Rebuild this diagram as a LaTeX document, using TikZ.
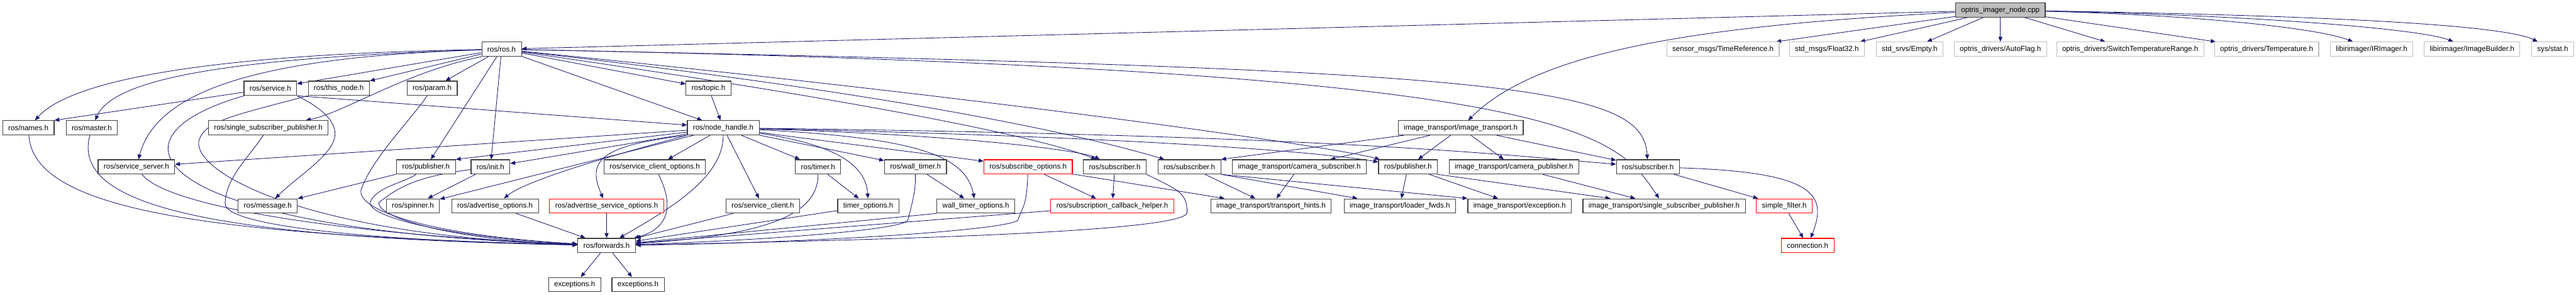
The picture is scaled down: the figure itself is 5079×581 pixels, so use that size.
\documentclass[tikz,border=0pt]{standalone}
\usepackage{fontspec}
\setmainfont{Liberation Sans}
\usetikzlibrary{arrows.meta, backgrounds}

\definecolor{edgeblue}{HTML}{191970}
\definecolor{boxdark}{HTML}{404040}
\definecolor{boxgray}{HTML}{BFBFBF}

\begin{document}
\begin{tikzpicture}[
    x=0.02cm, y=-0.02cm,
    % Styles
    header/.style={
        rectangle, draw=#1, fill=white, line width=0.8pt,
        minimum height=16pt, inner xsep=6.3pt, inner ysep=1pt,
        font=\fontsize{8.2}{10}\selectfont
    },
    header/.default=boxdark,
    rootheader/.style={header, fill=boxgray},
    cutheader/.style={header=red},
    extheader/.style={header=boxgray},
    arrow/.style={
        -{Triangle[length=5.5pt, width=4.5pt]}, line width=0.6pt, draw=#1
    },
    arrow/.default=edgeblue
]

\useasboundingbox (0,0) rectangle (5079,581);

% ── Source file ─────────────────────────────────────────────────────────────
\node[rootheader] (opt) at (3944,20) {optris\_imager\_node.cpp};

% ── Direct includes ─────────────────────────────────────────────────────────
\node[header] (ros) at (989,97) {ros/ros.h};
\node[extheader] (tref) at (3397,97) {sensor\_msgs/TimeReference.h};
\node[extheader] (f32) at (3602,97) {std\_msgs/Float32.h};
\node[extheader] (empty) at (3765,97) {std\_srvs/Empty.h};
\node[extheader] (autoflag) at (3944,97) {optris\_drivers/AutoFlag.h};
\node[extheader] (switchtr) at (4200,97) {optris\_drivers/SwitchTemperatureRange.h};
\node[extheader] (temperature) at (4469,97) {optris\_drivers/Temperature.h};
\node[extheader] (irimager) at (4676,97) {libirimager/IRImager.h};
\node[extheader] (imgbuilder) at (4874,97) {libirimager/ImageBuilder.h};
\node[extheader] (sysstat) at (5033,97) {sys/stat.h};

% ── Second level ────────────────────────────────────────────────────────────
\node[header] (service) at (533,174) {ros/service.h};
\node[header] (thisnode) at (668,174) {ros/this\_node.h};
\node[header] (param) at (852,174) {ros/param.h};
\node[header] (topic) at (1397,174) {ros/topic.h};

\node[header] (names) at (56,252) {ros/names.h};
\node[header] (master) at (181,252) {ros/master.h};
\node[header] (sspub) at (529,252) {ros/single\_subscriber\_publisher.h};
\node[header] (nodehandle) at (1426,252) {ros/node\_handle.h};
\node[header] (imgtransport) at (2880,252) {image\_transport/image\_transport.h};

% ── Node handle includes ────────────────────────────────────────────────────
\node[header] (srvserver) at (269,329) {ros/service\_server.h};
\node[header] (pub1) at (840,329) {ros/publisher.h};
\node[header] (init) at (967,329) {ros/init.h};
\node[header] (srvclientopt) at (1291,329) {ros/service\_client\_options.h};
\node[header] (timer) at (1613,329) {ros/timer.h};
\node[header] (walltimer) at (1805,329) {ros/wall\_timer.h};
\node[cutheader] (subopt) at (2027,329) {ros/subscribe\_options.h};
\node[header] (sub1) at (2198,329) {ros/subscriber.h};
\node[header] (sub2) at (2345,329) {ros/subscriber.h};
\node[header] (camsub) at (2562,329) {image\_transport/camera\_subscriber.h};
\node[header] (pub2) at (2776,329) {ros/publisher.h};
\node[header] (campub) at (2985,329) {image\_transport/camera\_publisher.h};
\node[header] (sub3) at (3249,329) {ros/subscriber.h};

\node[header] (message) at (528,406) {ros/message.h};
\node[header] (spinner) at (814,406) {ros/spinner.h};
\node[header] (advopt) at (976,406) {ros/advertise\_options.h};
\node[cutheader] (advsrvopt) at (1196,406) {ros/advertise\_service\_options.h};
\node[header] (srvclient) at (1504,406) {ros/service\_client.h};
\node[header] (timeropt) at (1712,406) {timer\_options.h};
\node[header] (walltimeropt) at (1924,406) {wall\_timer\_options.h};
\node[cutheader] (cbhelper) at (2193,406) {ros/subscription\_callback\_helper.h};
\node[header] (hints) at (2506,406) {image\_transport/transport\_hints.h};
\node[header] (loaderfwds) at (2760,406) {image\_transport/loader\_fwds.h};
\node[header] (itexception) at (2996,406) {image\_transport/exception.h};
\node[header] (itsspub) at (3281,406) {image\_transport/single\_subscriber\_publisher.h};
\node[cutheader] (simplefilter) at (3518,406) {simple\_filter.h};

% ── Bottom ──────────────────────────────────────────────────────────────────
\node[header] (forwards) at (1196,484) {ros/forwards.h};
\node[cutheader] (connection) at (3564,484) {connection.h};
\node[header] (exc1) at (1133,561) {exceptions.h};
\node[header] (exc2) at (1258,561) {exceptions.h};

% ── Arrows ──────────────────────────────────────────────────────────────────
\begin{pgfonlayer}{background}

% Source file
\draw[arrow] (opt) -- (ros);
\draw[arrow] (opt) .. controls +(-600,30) and +(150,-150) .. (imgtransport);
\draw[arrow] (opt) -- (tref);
\draw[arrow] (opt) -- (f32);
\draw[arrow] (opt) -- (empty);
\draw[arrow] (opt) -- (autoflag);
\draw[arrow] (opt) -- (switchtr);
\draw[arrow] (opt) -- (temperature);
\draw[arrow] (opt) .. controls +(400,10) and +(-100,-40) .. (irimager);
\draw[arrow] (opt) .. controls +(500,10) and +(-100,-40) .. (imgbuilder);
\draw[arrow] (opt) .. controls +(600,10) and +(-100,-50) .. (sysstat);

% ros/ros.h
\draw[arrow] (ros) .. controls +(-600,10) and +(80,-90) .. (names);
\draw[arrow] (ros) .. controls +(-580,18) and +(40,-90) .. (master);
\draw[arrow] (ros) .. controls +(-480,15) and +(40,-150) .. (srvserver);
\draw[arrow] (ros) -- (service);
\draw[arrow] (ros) -- (thisnode);
\draw[arrow] (ros.south west) .. controls +(-150,30) and +(150,-30) .. (sspub);
\draw[arrow] (ros) -- (param);
\draw[arrow] (ros) -- (topic);
\draw[arrow] (ros) -- (nodehandle);
\draw[arrow] (ros) -- (pub1);
\draw[arrow] (ros) -- (init);
\draw[arrow] (ros) .. controls +(700,100) and +(-150,-60) .. (sub1);
\draw[arrow] (ros) .. controls +(800,90) and +(-200,-60) .. (sub2);
\draw[arrow] (ros) .. controls +(1000,100) and +(-150,-40) .. (pub2);
\draw[arrow] (ros) .. controls +(2100,40) and +(-100,-150) .. (itsspub);
\draw[arrow] (ros) .. controls +(2000,40) and +(-10,-160) .. (sub3);

% Second level
\draw[arrow] (service) -- (names.north east);
\draw[arrow] (service) .. controls +(-350,100) and +(-900,-30) .. (forwards);
\draw[arrow] (service.south east) .. controls +(40,20) and +(0,-30) .. ++(75,75)
    .. controls +(0,40) and +(60,-60) .. (message);
\draw[arrow] (service.south east) -- (nodehandle);
\draw[arrow] (thisnode.south west) .. controls +(-150,40) and +(10,-40) .. ++(-215,90)
    .. controls +(-10,60) and +(-600,-20) .. (forwards);
\draw[arrow] (param) .. controls +(-40,60) and +(20,-60) .. ++(-140,200)
    .. controls +(-10,40) and +(-350,-20) .. (forwards);
\draw[arrow] (topic) -- (nodehandle);
\draw[arrow] (names) .. controls +(10,160) and +(-800,-20) .. (forwards);
\draw[arrow] (master) .. controls +(-40,150) and +(-800,-15) .. (forwards);
\draw[arrow] (sspub) .. controls +(-40,60) and +(0,-50) .. ++(-85,150)
    .. controls +(0,40) and +(-500,-10) .. (forwards);
\draw[arrow] (srvserver) .. controls +(60,80) and +(-500,-20) .. (forwards);
\draw[arrow] (pub1) -- (message);
\draw[arrow] (pub1) .. controls +(-40,30) and +(10,-30) .. ++(-110,70)
    .. controls +(-5,30) and +(-300,-15) .. (forwards);
\draw[arrow] (init) -- (spinner);
\draw[arrow] (init) .. controls +(-150,20) and +(40,-30) .. ++(-220,70)
    .. controls +(-5,30) and +(-300,-10) .. (forwards);

% ros/node_handle.h
\draw[arrow] (nodehandle) -- (srvserver);
\draw[arrow] (nodehandle) -- (pub1.north east);
\draw[arrow] (nodehandle) -- (init);
\draw[arrow] (nodehandle) -- (spinner);
\draw[arrow] (nodehandle.south west) .. controls +(-150,40) and +(60,-50) .. (advopt);
\draw[arrow] (nodehandle.south west) .. controls +(-170,20) and +(-40,-90) .. (advsrvopt);
\draw[arrow] (nodehandle) -- (srvclientopt);
\draw[arrow] (nodehandle) .. controls +(0,100) and +(120,-70) .. (forwards);
\draw[arrow] (nodehandle) -- (srvclient);
\draw[arrow] (nodehandle) -- (timer);
\draw[arrow] (nodehandle) .. controls +(200,30) and +(-5,-90) .. (timeropt);
\draw[arrow] (nodehandle) -- (walltimer);
\draw[arrow] (nodehandle) .. controls +(380,20) and +(-20,-100) .. (walltimeropt);
\draw[arrow] (nodehandle) -- (subopt);
\draw[arrow] (nodehandle) .. controls +(500,15) and +(-60,-30) .. (sub1);
\draw[arrow] (nodehandle) .. controls +(900,20) and +(-150,-25) .. (pub2);
\draw[arrow] (nodehandle) .. controls +(1200,15) and +(-300,-25) .. (sub3);

% Options, timers, subscribers
\draw[arrow] (advopt) -- (forwards);
\draw[arrow] (advsrvopt) -- (forwards);
\draw[arrow] (srvclientopt) .. controls +(45,90) and +(110,-30) .. (forwards);
\draw[arrow] (srvclient) -- (forwards);
\draw[arrow] (timer) -- (timeropt);
\draw[arrow] (timer) .. controls +(0,100) and +(300,-20) .. (forwards);
\draw[arrow] (timeropt) -- (forwards);
\draw[arrow] (walltimer) -- (walltimeropt);
\draw[arrow] (walltimer) .. controls +(0,50) and +(10,-40) .. ++(-15,105)
    .. controls +(-10,20) and +(300,-10) .. (forwards);
\draw[arrow] (walltimeropt.south west) -- (forwards);
\draw[arrow] (subopt) -- (cbhelper);
\draw[arrow] (subopt) -- (hints);
\draw[arrow] (subopt) .. controls +(-3,80) and +(10,-30) .. ++(-20,105)
    .. controls +(-20,20) and +(400,-5) .. (forwards);
\draw[arrow] (sub1) -- (cbhelper);
\draw[arrow] (sub1.south east) .. controls +(60,30) and +(0,-40) .. ++(80,75)
    .. controls +(0,40) and +(500,-10) .. (forwards);
\draw[arrow] (cbhelper) -- (forwards);
\draw[arrow] (sub2) -- (hints);
\draw[arrow] (sub2.south east) -- (loaderfwds);
\draw[arrow] (sub2.south east) -- (itexception.north west);

% image_transport/image_transport.h
\draw[arrow] (imgtransport) -- (sub2.north east);
\draw[arrow] (imgtransport) -- (camsub);
\draw[arrow] (imgtransport) -- (pub2);
\draw[arrow] (imgtransport) -- (campub);
\draw[arrow] (imgtransport) -- (sub3);
\draw[arrow] (camsub) -- (hints);
\draw[arrow] (pub2) -- (loaderfwds);
\draw[arrow] (pub2) -- (itexception);
\draw[arrow] (pub2.south east) -- (itsspub);
\draw[arrow] (campub) -- (itsspub);
\draw[arrow] (sub3) -- (simplefilter);
\draw[arrow] (sub3) .. controls +(330,10) and +(40,-100) .. (connection);
\draw[arrow] (simplefilter) -- (connection);

% ros/forwards.h
\draw[arrow] (forwards) -- (exc1);
\draw[arrow] (forwards) -- (exc2);

\end{pgfonlayer}

\end{tikzpicture}
\end{document}
